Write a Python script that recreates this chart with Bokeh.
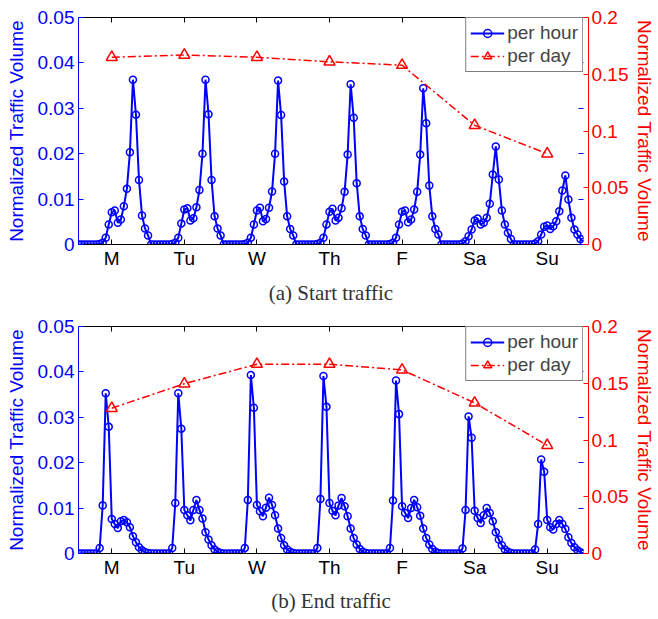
from bokeh.plotting import figure
from bokeh.models import Range1d, LinearAxis, FixedTicker, Title, CustomLabelingPolicy
from bokeh.layouts import column
from bokeh.embed import file_html
from bokeh.resources import INLINE

# ---------------- data ----------------
days = ["M", "Tu", "W", "Th", "F", "Sa", "Su"]
day_pos = [12, 36, 60, 84, 108, 132, 156]

# (a) start traffic, per hour (24 values per day)
start_mon = [0, 0, 0, 0, 0, 0, 0, 0.0001, 0.0004, 0.0015, 0.0044, 0.0071, 0.0075, 0.0048, 0.0055, 0.0084, 0.0123, 0.0203, 0.0363, 0.0286, 0.0142, 0.0064, 0.0035, 0.0020]
start_tue = [0, 0, 0, 0, 0, 0, 0, 0.0001, 0.0004, 0.0015, 0.0046, 0.0077, 0.0080, 0.0053, 0.0058, 0.0082, 0.0120, 0.0200, 0.0363, 0.0287, 0.0142, 0.0062, 0.0035, 0.0020]
start_wed = [0, 0, 0, 0, 0, 0, 0, 0.0001, 0.0004, 0.0015, 0.0044, 0.0075, 0.0081, 0.0051, 0.0056, 0.0081, 0.0117, 0.0200, 0.0361, 0.0285, 0.0139, 0.0062, 0.0034, 0.0020]
start_thu = [0, 0, 0, 0, 0, 0, 0, 0.0001, 0.0004, 0.0015, 0.0044, 0.0072, 0.0079, 0.0053, 0.0059, 0.0080, 0.0116, 0.0198, 0.0353, 0.0279, 0.0135, 0.0062, 0.0034, 0.0020]
start_fri = [0, 0, 0, 0, 0, 0, 0, 0.0001, 0.0004, 0.0015, 0.0044, 0.0072, 0.0075, 0.0049, 0.0055, 0.0077, 0.0116, 0.0198, 0.0344, 0.0267, 0.0130, 0.0062, 0.0034, 0.0022]
start_sat = [0, 0, 0, 0, 0, 0, 0, 0.0002, 0.0007, 0.0018, 0.0033, 0.0053, 0.0057, 0.0044, 0.0048, 0.0059, 0.0090, 0.0154, 0.0216, 0.0143, 0.0075, 0.0044, 0.0026, 0.0012]
start_sun = [0, 0, 0, 0, 0, 0, 0, 0.0002, 0.0007, 0.0022, 0.0039, 0.0042, 0.0034, 0.0040, 0.0051, 0.0073, 0.0119, 0.0152, 0.0099, 0.0059, 0.0033, 0.0022, 0.0012, 0.0006]
start_day = [0.165, 0.167, 0.165, 0.161, 0.158, 0.105, 0.080]

# (b) end traffic, per hour
end_mon = [0, 0, 0, 0, 0, 0, 0, 0.0012, 0.0106, 0.0353, 0.0279, 0.0076, 0.0065, 0.0056, 0.0071, 0.0074, 0.0069, 0.0058, 0.0038, 0.0025, 0.0014, 0.0007, 0.0003, 0.0001]
end_tue = [0, 0, 0, 0, 0, 0, 0, 0.0012, 0.0111, 0.0353, 0.0275, 0.0096, 0.0084, 0.0073, 0.0096, 0.0118, 0.0096, 0.0077, 0.0047, 0.0031, 0.0018, 0.0009, 0.0004, 0.0001]
end_wed = [0, 0, 0, 0, 0, 0, 0, 0.0012, 0.0118, 0.0393, 0.0321, 0.0107, 0.0093, 0.0082, 0.0101, 0.0123, 0.0107, 0.0084, 0.0055, 0.0034, 0.0018, 0.0009, 0.0004, 0.0001]
end_thu = [0, 0, 0, 0, 0, 0, 0, 0.0012, 0.0120, 0.0391, 0.0323, 0.0111, 0.0094, 0.0084, 0.0106, 0.0122, 0.0104, 0.0082, 0.0055, 0.0034, 0.0020, 0.0010, 0.0004, 0.0001]
end_fri = [0, 0, 0, 0, 0, 0, 0, 0.0012, 0.0117, 0.0381, 0.0307, 0.0104, 0.0089, 0.0078, 0.0100, 0.0118, 0.0102, 0.0083, 0.0055, 0.0034, 0.0020, 0.0010, 0.0004, 0.0001]
end_sat = [0, 0, 0, 0, 0, 0, 0, 0.0011, 0.0096, 0.0302, 0.0255, 0.0094, 0.0078, 0.0067, 0.0084, 0.0100, 0.0089, 0.0071, 0.0047, 0.0031, 0.0018, 0.0009, 0.0004, 0.0001]
end_sun = [0, 0, 0, 0, 0, 0, 0, 0.0009, 0.0065, 0.0207, 0.0180, 0.0074, 0.0058, 0.0053, 0.0065, 0.0074, 0.0065, 0.0054, 0.0036, 0.0023, 0.0014, 0.0007, 0.0003, 0.0]
end_day = [0.128, 0.1496, 0.1668, 0.1668, 0.1618, 0.1327, 0.0953]

left_ticks = [0, 0.01, 0.02, 0.03, 0.04, 0.05]
left_labels = ["0", "0.01", "0.02", "0.03", "0.04", "0.05"]
right_ticks = [0, 0.05, 0.1, 0.15, 0.2]
right_labels = ["0", "0.05", "0.1", "0.15", "0.2"]

BLUE = "#0000FF"
RED = "#FF0000"
SANS = "Liberation Sans"
SERIF = "Liberation Serif"


def ticks_only_axis(ticks, color, **kw):
    # an axis that draws inward ticks but no labels at all
    return LinearAxis(ticker=FixedTicker(ticks=ticks), major_tick_in=5, major_tick_out=0,
                      minor_tick_line_color=None, major_label_standoff=0,
                      major_label_text_font_size="1px",
                      major_label_policy=CustomLabelingPolicy(code="return [];"),
                      major_tick_line_color=color, **kw)


def make_panel(hourly, daily, caption, height, top_border, bottom, cap_standoff):
    hours = list(range(1, len(hourly) + 1))
    p = figure(width=658, height=height, output_backend="svg", toolbar_location=None,
               x_range=Range1d(1, 168), y_range=Range1d(0, 0.05),
               min_border_left=78, min_border_right=73, min_border_top=top_border,
               min_border_bottom=bottom)
    p.extra_y_ranges = {"day": Range1d(0, 0.2)}
    p.outline_line_color = None
    p.grid.visible = False
    p.background_fill_color = "white"

    # bottom x axis
    xa = p.xaxis[0]
    xa.ticker = FixedTicker(ticks=day_pos)
    xa.major_label_overrides = {pos: d for pos, d in zip(day_pos, days)}
    xa.major_tick_in = 5
    xa.major_tick_out = 0
    xa.minor_tick_line_color = None
    xa.axis_line_color = "black"
    xa.major_tick_line_color = "black"
    xa.major_label_text_font = SANS
    xa.major_label_text_font_size = "19px"
    xa.major_label_text_color = "black"
    xa.major_label_standoff = 3

    # top axis (ticks only)
    p.add_layout(ticks_only_axis(day_pos, "black", axis_line_color="black"), "above")

    # left axis
    ya = p.yaxis[0]
    ya.ticker = FixedTicker(ticks=left_ticks)
    ya.major_label_overrides = {t: l for t, l in zip(left_ticks, left_labels)}
    ya.major_tick_in = 5
    ya.major_tick_out = 0
    ya.minor_tick_line_color = None
    ya.axis_line_color = BLUE
    ya.major_tick_line_color = BLUE
    ya.major_label_text_color = BLUE
    ya.major_label_text_font = SANS
    ya.major_label_text_font_size = "19px"
    ya.major_label_standoff = 4
    ya.axis_label = "Normalized Traffic Volume"
    ya.axis_label_text_color = BLUE
    ya.axis_label_text_font = SANS
    ya.axis_label_text_font_size = "19px"
    ya.axis_label_text_font_style = "normal"
    ya.axis_label_standoff = 8

    # mirrored blue ticks of the left axis on the right edge (no labels)
    p.add_layout(ticks_only_axis(left_ticks, BLUE, axis_line_color=None), "right")

    # right axis
    ra = LinearAxis(y_range_name="day", ticker=FixedTicker(ticks=right_ticks))
    ra.major_label_overrides = {t: l for t, l in zip(right_ticks, right_labels)}
    ra.major_tick_in = 5
    ra.major_tick_out = 0
    ra.minor_tick_line_color = None
    ra.axis_line_color = RED
    ra.major_tick_line_color = RED
    ra.major_label_text_color = RED
    ra.major_label_text_font = SANS
    ra.major_label_text_font_size = "19px"
    ra.major_label_standoff = 3
    ra.axis_label = "Normalized Traffic Volume"
    ra.axis_label_text_color = RED
    ra.axis_label_text_font = SANS
    ra.axis_label_text_font_size = "19px"
    ra.axis_label_text_font_style = "normal"
    ra.axis_label_standoff = 3
    p.add_layout(ra, "right")

    # data
    p.line(hours, hourly, line_color=BLUE, line_width=2, legend_label="per hour")
    p.scatter(hours, hourly, marker="circle", size=7, line_color=BLUE, line_width=1.5,
              fill_color=None, legend_label="per hour")
    p.line(day_pos, daily, y_range_name="day", line_color=RED, line_width=1.5,
           line_dash="8 3 2 3", legend_label="per day")
    p.scatter(day_pos, daily, y_range_name="day", marker="triangle", size=11,
              line_color=RED, line_width=1.5, fill_color=None, legend_label="per day")

    lg = p.legend[0]
    lg.location = "top_right"
    lg.margin = 0
    lg.padding = 4
    lg.spacing = 1
    lg.border_line_color = "black"
    lg.border_line_width = 1
    lg.background_fill_color = "white"
    lg.background_fill_alpha = 1
    lg.label_text_font = SANS
    lg.label_text_font_size = "19px"
    lg.label_height = 20
    lg.glyph_height = 20
    lg.glyph_width = 34
    lg.label_standoff = 3

    cap = Title(text=caption, align="center", text_font=SERIF, text_font_size="21px",
                text_font_style="normal", text_color="#333333", standoff=cap_standoff)
    p.add_layout(cap, "below")
    return p


start_hourly = start_mon + start_tue + start_wed + start_thu + start_fri + start_sat + start_sun
end_hourly = end_mon + end_tue + end_wed + end_thu + end_fri + end_sat + end_sun

p1 = make_panel(start_hourly, start_day, "(a) Start traffic", 311, 17, 66, 14)
p2 = make_panel(end_hourly, end_day, "(b) End traffic", 308, 15, 65, 13)

layout = column(p1, p2, spacing=0)
open("out.html", "w").write(file_html(layout, INLINE))
